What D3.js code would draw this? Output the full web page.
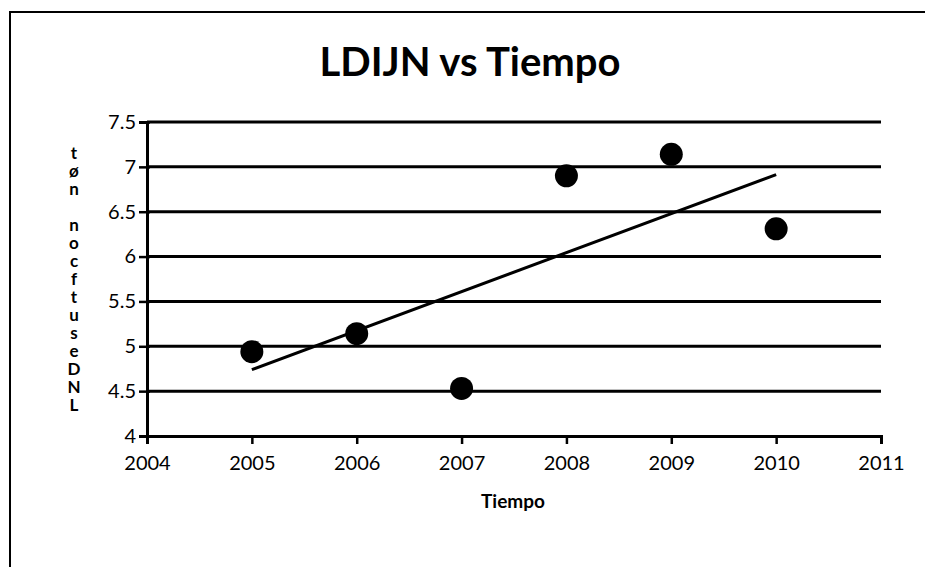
<!DOCTYPE html>
<html>
<head>
<meta charset="utf-8">
<script src="https://cdn.jsdelivr.net/npm/d3@7"></script>
<style>
  body { margin: 0; background: #fff; }
  text { font-family: Lato, "Open Sans", sans-serif; fill: #000; }
</style>
</head>
<body>
<script>
// data
var years = [2005, 2006, 2007, 2008, 2009, 2010];
var ldijn = [4.94, 5.14, 4.53, 6.90, 7.14, 6.31];
var yTicks = [4, 4.5, 5, 5.5, 6, 6.5, 7, 7.5];
var xTicks = [2004, 2005, 2006, 2007, 2008, 2009, 2010, 2011];
var yLabel = 'tøn nocftuseDNL';

var W = 925, H = 567;
var margin = {top: 122, right: 44, bottom: 131, left: 147};

var svg = d3.select('body').append('svg')
  .attr('width', W)
  .attr('height', H);

// outer frame
svg.append('path')
  .attr('d', 'M10,567 V12 H925')
  .attr('fill', 'none')
  .attr('stroke', '#000')
  .attr('stroke-width', 2);

var g = svg.append('g')
  .attr('transform', 'translate(' + margin.left + ',' + margin.top + ')');

var w = W - margin.left - margin.right;
var h = H - margin.top - margin.bottom;

var x = d3.scaleLinear().domain([2004, 2011]).range([0, w]);
var y = d3.scaleLinear().domain([4, 7.5]).range([h, 0]);

// gridlines
g.selectAll('.grid')
  .data(yTicks.filter(function(d) { return d > 4; }))
  .enter().append('line')
  .attr('x1', 0).attr('x2', w)
  .attr('y1', function(d) { return y(d); })
  .attr('y2', function(d) { return y(d); })
  .attr('stroke', '#000')
  .attr('stroke-width', 3);

var yAxis = g.append('g')
  .call(d3.axisLeft(y).tickValues(yTicks).tickFormat(d3.format('')).tickSize(8).tickPadding(3));

var xAxis = g.append('g')
  .attr('transform', 'translate(0,' + h + ')')
  .call(d3.axisBottom(x).tickValues(xTicks).tickFormat(d3.format('d')).tickSize(8).tickPadding(12));

[yAxis, xAxis].forEach(function(a) {
  a.select('.domain').attr('stroke', '#000').attr('stroke-width', 3);
  a.selectAll('.tick line').attr('stroke', '#000').attr('stroke-width', 2.5);
  a.selectAll('.tick text').attr('font-size', 20).attr('font-family', 'Lato, sans-serif');
});
xAxis.selectAll('.tick line').attr('y1', 0);
yAxis.selectAll('.tick line').attr('x2', -8).attr('x1', 3);

// linear trend line from the data
var mx = d3.mean(years), my = d3.mean(ldijn);
var slope = d3.sum(years, function(d, i) { return (d - mx) * (ldijn[i] - my); }) /
            d3.sum(years, function(d) { return (d - mx) * (d - mx); });
var icpt = my - slope * mx;
var x0 = d3.min(years), x1 = d3.max(years);

g.append('line')
  .attr('x1', x(x0)).attr('y1', y(icpt + slope * x0))
  .attr('x2', x(x1)).attr('y2', y(icpt + slope * x1))
  .attr('stroke', '#000')
  .attr('stroke-width', 3);

g.selectAll('.dot')
  .data(years)
  .enter().append('circle')
  .attr('cx', function(d) { return x(d); })
  .attr('cy', function(d, i) { return y(ldijn[i]); })
  .attr('r', 11.5)
  .attr('fill', '#000');

// title
svg.append('text')
  .attr('x', 470).attr('y', 76)
  .attr('text-anchor', 'middle')
  .attr('font-size', 40)
  .attr('font-weight', 'bold')
  .text('LDIJN vs Tiempo');

// x axis title
svg.append('text')
  .attr('x', 513).attr('y', 508)
  .attr('text-anchor', 'middle')
  .attr('font-size', 19)
  .attr('font-weight', 'bold')
  .text('Tiempo');

// garbled y axis title, upright stacked letters
svg.append('text')
  .attr('x', 74).attr('y', 142)
  .style('writing-mode', 'vertical-rl')
  .style('text-orientation', 'upright')
  .style('letter-spacing', '-3px')
  .attr('font-size', 17)
  .attr('font-weight', 'bold')
  .text(yLabel);
</script>
</body>
</html>
